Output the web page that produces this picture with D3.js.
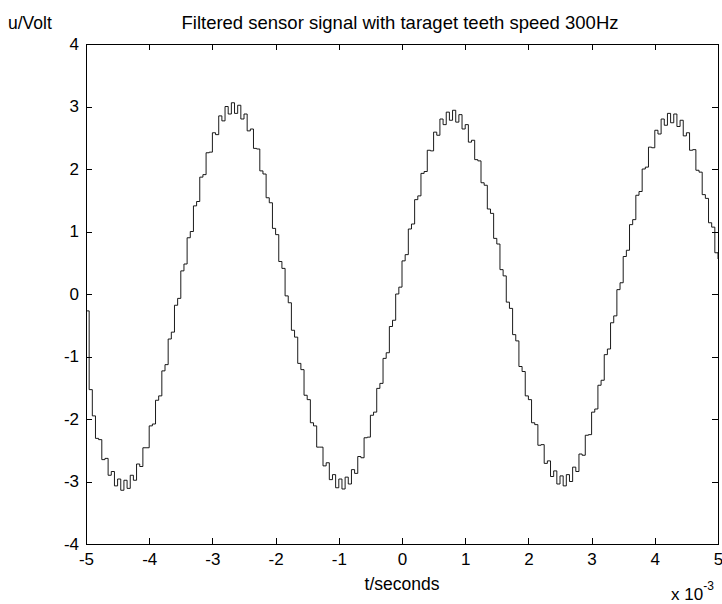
<!DOCTYPE html>
<html lang="en">
<head>
    <meta charset="UTF-8">
    <title>Filtered sensor signal</title>
    <script src="https://d3js.org/d3.v7.min.js"></script>
    <style>
        body {
            margin: 0;
            padding: 0;
            background: #fff;
        }
        svg text {
            font-family: "Liberation Sans", Arial, sans-serif;
            fill: #000;
        }
        .axis path, .axis line {
            stroke: #000;
            stroke-width: 1;
            shape-rendering: crispEdges;
        }
    </style>
</head>
<body>
    <svg width="722" height="604"></svg>

    <script>
        // sampled signal, first sample at t = -5e-3 s, one sample every 0.05e-3 s
        const tStart = -5;
        const tStep = 0.05;
        const voltage = [
            -0.27, -1.53, -1.95, -2.31, -2.33, -2.65, -2.63, -2.90, -2.84, -3.07,
            -2.96, -3.14, -2.98, -3.11, -2.90, -2.98, -2.72, -2.76, -2.46, -2.46,
            -2.11, -2.08, -1.70, -1.63, -1.23, -1.13, -0.72, -0.61, -0.18, -0.07,
            0.37, 0.48, 0.90, 1.00, 1.41, 1.48, 1.87, 1.91, 2.26, 2.27,
            2.58, 2.55, 2.85, 2.77, 3.00, 2.88, 3.06, 2.89, 3.02, 2.80,
            2.88, 2.61, 2.64, 2.33, 2.32, 1.97, 1.92, 1.54, 1.46, 1.05,
            0.95, 0.52, 0.41, -0.03, -0.14, -0.58, -0.69, -1.11, -1.21, -1.62,
            -1.69, -2.06, -2.11, -2.45, -2.45, -2.75, -2.70, -2.97, -2.89, -3.10,
            -2.96, -3.12, -2.93, -3.04, -2.81, -2.87, -2.60, -2.62, -2.30, -2.29,
            -1.94, -1.89, -1.51, -1.43, -1.03, -0.94, -0.52, -0.42, 0.00, 0.11,
            0.53, 0.63, 1.04, 1.12, 1.51, 1.57, 1.93, 1.96, 2.30, 2.29,
            2.59, 2.54, 2.80, 2.71, 2.91, 2.78, 2.94, 2.75, 2.87, 2.64,
            2.71, 2.43, 2.46, 2.15, 2.13, 1.78, 1.74, 1.36, 1.29, 0.89,
            0.80, 0.39, 0.29, -0.13, -0.23, -0.65, -0.75, -1.16, -1.24, -1.63,
            -1.69, -2.06, -2.09, -2.42, -2.41, -2.71, -2.67, -2.92, -2.83, -3.04,
            -2.91, -3.07, -2.89, -3.00, -2.77, -2.84, -2.56, -2.58, -2.26, -2.25,
            -1.89, -1.84, -1.46, -1.38, -0.97, -0.88, -0.46, -0.35, 0.07, 0.18,
            0.60, 0.70, 1.11, 1.19, 1.58, 1.64, 2.00, 2.03, 2.35, 2.34,
            2.62, 2.56, 2.80, 2.70, 2.89, 2.74, 2.88, 2.68, 2.78, 2.53,
            2.58, 2.30, 2.31, 1.98, 1.95, 1.59, 1.53, 1.14, 1.07, 0.66,
            0.56
        ];
        const xTicks = [-5, -4, -3, -2, -1, 0, 1, 2, 3, 4, 5];
        const yTicks = [-4, -3, -2, -1, 0, 1, 2, 3, 4];

        const margin = { top: 44, right: 4, bottom: 60, left: 86 };
        const width = 722 - margin.left - margin.right;
        const height = 604 - margin.top - margin.bottom;

        const svg = d3.select("svg");
        const g = svg.append("g")
            .attr("transform", `translate(${margin.left},${margin.top})`);

        const x = d3.scaleLinear().domain([-5, 5]).range([0, width]);
        const y = d3.scaleLinear().domain([-4, 4]).range([height, 0]);

        const data = voltage.map((v, i) => ({ t: tStart + i * tStep, v: v }));

        const line = d3.line()
            .x(d => x(d.t))
            .y(d => y(d.v))
            .curve(d3.curveStepAfter);

        g.append("path")
            .datum(data)
            .attr("fill", "none")
            .attr("stroke", "#000")
            .attr("stroke-width", 0.9)
            .attr("d", line);

        const fmt = d => String(d);

        g.append("g")
            .attr("class", "axis")
            .attr("transform", `translate(0,${height})`)
            .call(d3.axisBottom(x).tickValues(xTicks).tickFormat(fmt)
                .tickSizeInner(-6).tickSizeOuter(0).tickPadding(9));

        g.append("g")
            .attr("class", "axis")
            .call(d3.axisTop(x).tickValues(xTicks).tickFormat("")
                .tickSizeInner(-6).tickSizeOuter(0));

        g.append("g")
            .attr("class", "axis")
            .call(d3.axisLeft(y).tickValues(yTicks).tickFormat(fmt)
                .tickSizeInner(-6).tickSizeOuter(0).tickPadding(7));

        g.append("g")
            .attr("class", "axis")
            .attr("transform", `translate(${width},0)`)
            .call(d3.axisRight(y).tickValues(yTicks).tickFormat("")
                .tickSizeInner(-6).tickSizeOuter(0));

        g.selectAll(".axis text")
            .style("font-size", "17px");

        // labels
        svg.append("text")
            .attr("x", 400)
            .attr("y", 29)
            .attr("text-anchor", "middle")
            .style("font-size", "18.5px")
            .text("Filtered sensor signal with taraget teeth speed 300Hz");

        svg.append("text")
            .attr("x", 8)
            .attr("y", 29)
            .style("font-size", "17.5px")
            .text("u/Volt");

        svg.append("text")
            .attr("x", 402)
            .attr("y", 590)
            .attr("text-anchor", "middle")
            .style("font-size", "17.5px")
            .text("t/seconds");

        const exp = svg.append("text")
            .attr("x", 671)
            .attr("y", 600)
            .style("font-size", "17px");
        exp.append("tspan").text("x 10");
        exp.append("tspan")
            .attr("dy", -10)
            .style("font-size", "12px")
            .text("-3");
    </script>
</body>
</html>
